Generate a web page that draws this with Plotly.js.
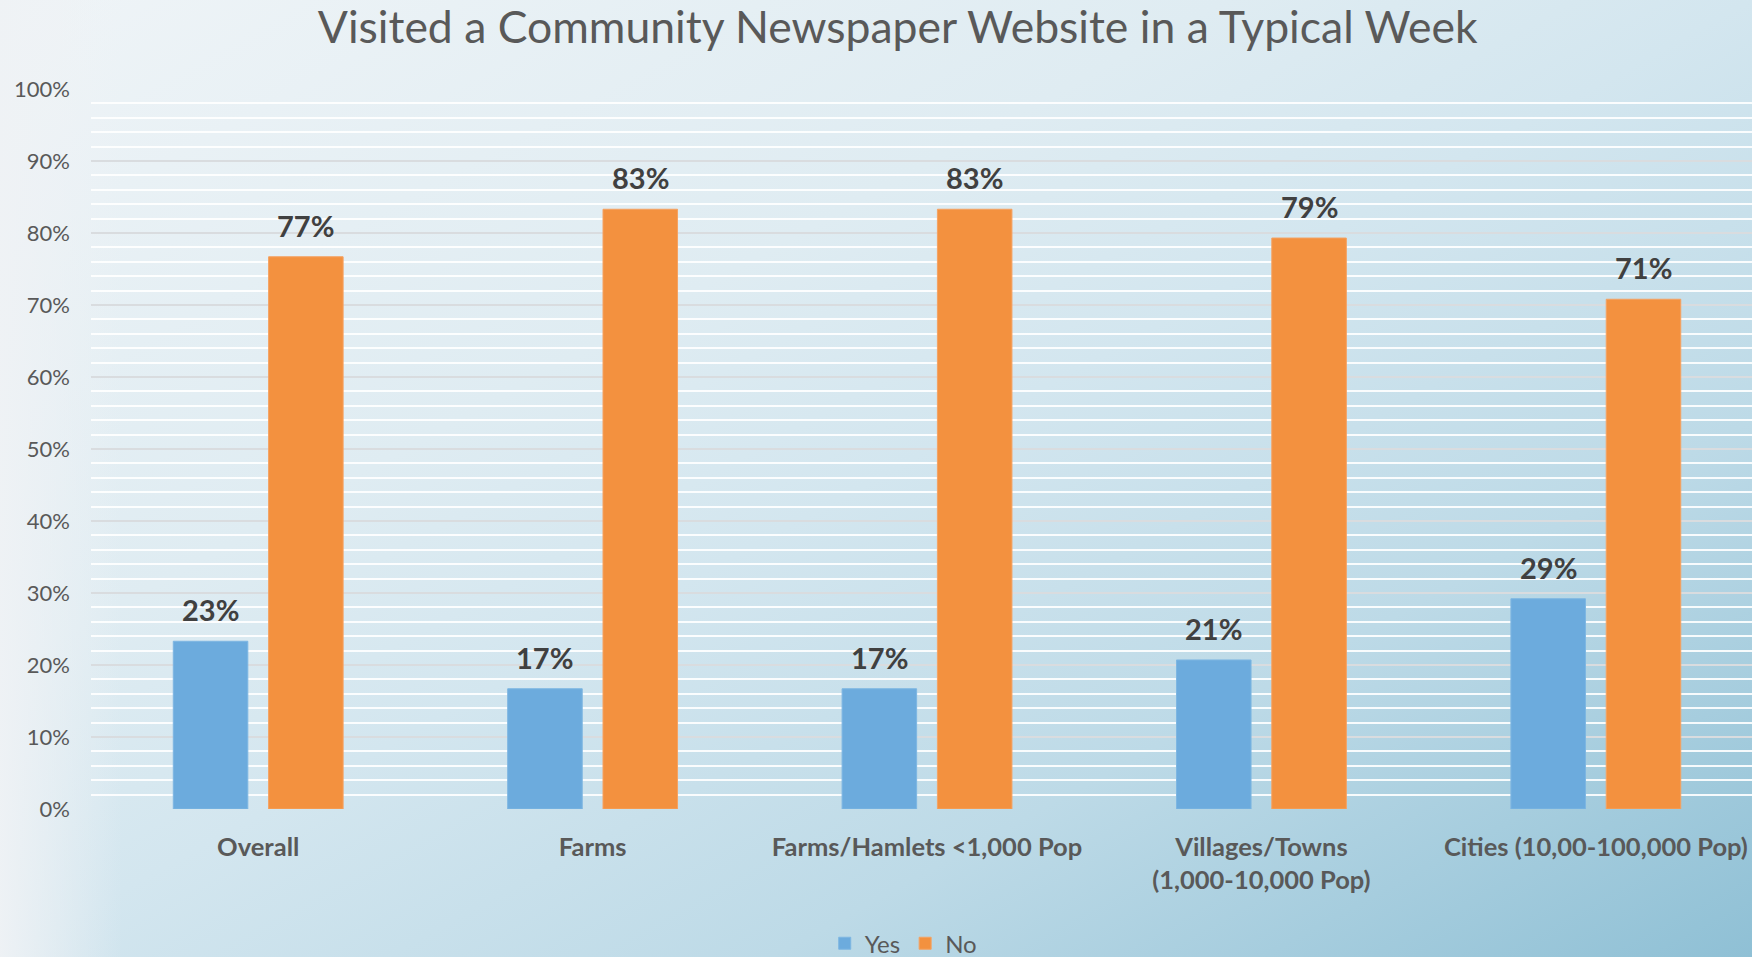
<!DOCTYPE html>
<html>
<head>
<meta charset="utf-8">
<script src="https://cdn.plot.ly/plotly-3.0.1.min.js"></script>
<style>
  html, body { margin: 0; padding: 0; }
  #chart {
    width: 1752px; height: 957px;
    background:
      linear-gradient(to right, rgba(239,242,245,0.95) 0%, rgba(239,242,245,0) 7%),
      linear-gradient(to bottom right, #eff4f7 0%, #dfecf2 35%, #d3e6ef 50%, #bddae7 72%, #8fc0d5 100%);
  }
</style>
</head>
<body>
<div id="chart"></div>
<script>
// ---- data ----
const categories = [
  "Overall",
  "Farms",
  "Farms/Hamlets <1,000 Pop",
  "Villages/Towns<br>(1,000-10,000 Pop)",
  "Cities (10,00-100,000 Pop)"
];
const yesValues = [0.233, 0.167, 0.167, 0.207, 0.292];
const noValues  = [0.767, 0.833, 0.833, 0.793, 0.708];
const seriesNames = ["Yes", "No"];
const titleText = "Visited a Community Newspaper Website in a Typical Week";

// ---- style ----
const colors = ["#6cabdd", "#f3913f"];
const bargap = 0.43;
const textColor = "#595959";
const labelColor = "#404040";
const fontFamily = "Lato, 'Open Sans', sans-serif";

const traces = [yesValues, noValues].map((vals, i) => ({
  type: "bar",
  name: seriesNames[i],
  x: categories,
  y: vals,
  marker: { color: colors[i], line: { color: i === 0 ? "#7db6e2" : "#f5a262", width: 1 } },
  hoverinfo: "skip"
}));

// value labels above bars, placed through the axes
const offset = (1 - bargap) / 4;
const annotations = [];
[yesValues, noValues].forEach((vals, s) => {
  vals.forEach((v, i) => {
    annotations.push({
      x: i + (s === 0 ? -offset : offset),
      y: v,
      xref: "x", yref: "y",
      text: Math.round(v * 100) + "%",
      showarrow: false,
      yanchor: "bottom",
      yshift: 12,
      font: { family: fontFamily, size: 29, color: labelColor, weight: 700 }
    });
  });
});

const layout = {
  width: 1752, height: 957,
  paper_bgcolor: "rgba(0,0,0,0)",
  plot_bgcolor: "rgba(0,0,0,0)",
  margin: { l: 91, r: 0, t: 89, b: 148, pad: 0, autoexpand: false },
  barmode: "group",
  bargap: bargap,
  bargroupgap: 0.218,
  title: {
    text: titleText,
    x: 0.5124, xref: "container", xanchor: "center",
    y: 0.971, yref: "container", yanchor: "middle",
    font: { family: fontFamily, size: 44.5, color: textColor, weight: 400 }
  },
  xaxis: {
    type: "category",
    range: [-0.5, 4.467],
    showgrid: false, zeroline: false, showline: false,
    ticks: "",
    ticklabelstandoff: 20,
    tickfont: { family: fontFamily, size: 25.5, color: textColor, weight: 700 },
    fixedrange: true
  },
  yaxis: {
    range: [0, 1],
    dtick: 0.1,
    tickformat: ".0%",
    showgrid: true,
    gridcolor: "#d9dcdf",
    gridwidth: 2,
    zeroline: false, showline: false,
    ticks: "",
    ticklabelstandoff: 20,
    tickfont: { family: fontFamily, size: 22, color: textColor },
    minor: { dtick: 0.02, showgrid: true, gridcolor: "rgba(255,255,255,0.9)", gridwidth: 2 },
    fixedrange: true
  },
  showlegend: true,
  legend: {
    orientation: "h",
    x: 0.489, xanchor: "center",
    y: -0.187, yanchor: "middle",
    font: { family: fontFamily, size: 24, color: textColor },
    itemwidth: 30,
    bgcolor: "rgba(0,0,0,0)"
  },
  annotations: annotations,
  hovermode: false
};

Plotly.newPlot("chart", traces, layout, { displayModeBar: false, staticPlot: true });
</script>
</body>
</html>
